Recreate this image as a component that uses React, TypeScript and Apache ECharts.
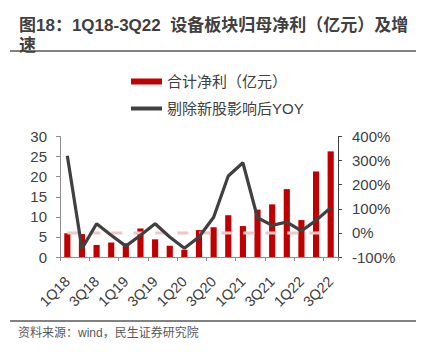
import React, { useEffect, useRef } from "react";
import * as echarts from "echarts";

const categories = [
  "1Q18", "2Q18", "3Q18", "4Q18", "1Q19", "2Q19", "3Q19", "4Q19",
  "1Q20", "2Q20", "3Q20", "4Q20", "1Q21", "2Q21", "3Q21", "4Q21",
  "1Q22", "2Q22", "3Q22",
];
const netProfit = [5.9, 5.7, 3.0, 3.6, 3.4, 7.1, 4.4, 2.8, 1.8, 6.7, 7.4, 10.4, 7.7, 11.8, 13.1, 16.9, 9.2, 21.3, 26.3];
const yoy = [320, -65, 38, -10, -55, -10, 38, -17, -64, -17, 65, 236, 291, 63, 31, 45, 8, 52, 104];
const zeroLine = categories.map(() => 0);

const FONT = "'Liberation Sans', Arial, 'Noto Sans CJK SC', sans-serif";

export default function App() {
  const ref = useRef<HTMLDivElement>(null);
  useEffect(() => {
    if (!ref.current) return;
    const chart = echarts.init(ref.current, null, { renderer: "svg" });
    chart.setOption({
      animation: false,
      backgroundColor: "#ffffff",
      textStyle: { fontFamily: FONT },
      title: {
        text: "图18：1Q18-3Q22  设备板块归母净利（亿元）及增\n速",
        left: 14,
        top: 10,
        textStyle: {
          fontSize: 17,
          fontWeight: "bold",
          color: "#404040",
          lineHeight: 20,
          fontFamily: FONT,
        },
      },
      graphic: [
        { type: "line", shape: { x1: 10, y1: 51, x2: 416, y2: 51 }, style: { stroke: "#595959", lineWidth: 1.5 } },
        { type: "line", shape: { x1: 10, y1: 321, x2: 416, y2: 321 }, style: { stroke: "#595959", lineWidth: 1.5 } },
        {
          type: "text",
          left: 18,
          top: 327,
          style: { text: "资料来源：wind，民生证券研究院", fill: "#595959", fontSize: 12, fontFamily: FONT },
        },
      ],
      legend: {
        orient: "vertical",
        left: 124,
        top: 69,
        itemWidth: 31,
        itemHeight: 6,
        itemGap: 12,
        textStyle: { fontSize: 15, color: "#404040", fontFamily: FONT },
        data: [
          { name: "合计净利（亿元）", icon: "rect" },
          { name: "剔除新股影响后YOY", itemStyle: { opacity: 0 }, lineStyle: { width: 4, color: "#404040" } },
        ],
      },
      grid: { left: 60, right: 88, top: 136.5, bottom: 95 },
      xAxis: {
        type: "category",
        data: categories,
        axisLine: { lineStyle: { color: "#8c8c8c", width: 1 } },
        axisTick: { show: true, alignWithLabel: false, length: 4, lineStyle: { color: "#8c8c8c" } },
        axisLabel: {
          interval: 1,
          rotate: 45,
          fontSize: 14.5,
          color: "#404040",
          margin: 22,
          fontFamily: FONT,
        },
      },
      yAxis: [
        {
          type: "value",
          min: 0,
          max: 30,
          interval: 5,
          splitLine: { show: false },
          axisLine: { show: true, lineStyle: { color: "#8c8c8c" } },
          axisTick: { show: true, length: 4, lineStyle: { color: "#8c8c8c" } },
          axisLabel: { fontSize: 15, color: "#404040", margin: 13, fontFamily: FONT },
        },
        {
          type: "value",
          min: -100,
          max: 400,
          interval: 100,
          splitLine: { show: false },
          axisLine: { show: true, lineStyle: { color: "#404040" } },
          axisTick: { show: true, length: 4, lineStyle: { color: "#404040" } },
          axisLabel: { fontSize: 15, color: "#404040", margin: 14, formatter: "{value}%", fontFamily: FONT },
        },
      ],
      series: [
        {
          name: "合计净利（亿元）",
          type: "bar",
          data: netProfit,
          barWidth: "42%",
          itemStyle: { color: "#C00000" },
          yAxisIndex: 0,
          z: 2,
        },
        {
          name: "zero",
          type: "line",
          data: zeroLine,
          yAxisIndex: 1,
          symbol: "none",
          lineStyle: { color: "#F2C6C4", width: 3, type: [11, 11] },
          z: 3,
          silent: true,
        },
        {
          name: "剔除新股影响后YOY",
          type: "line",
          data: yoy,
          yAxisIndex: 1,
          symbol: "none",
          lineStyle: { color: "#404040", width: 3.2 },
          itemStyle: { color: "#404040" },
          z: 4,
        },
      ],
    });
    return () => chart.dispose();
  }, []);
  return <div ref={ref} style={{ width: 426, height: 352, position: "fixed", left: 0, top: 0 }} />;
}
